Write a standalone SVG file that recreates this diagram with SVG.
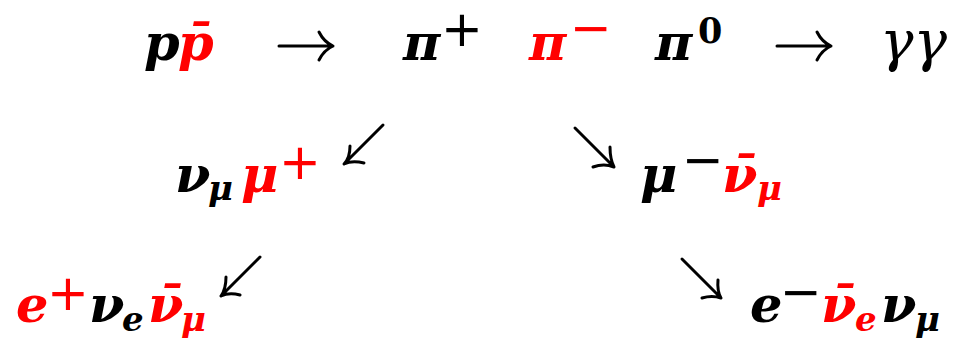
<svg xmlns="http://www.w3.org/2000/svg" width="963" height="340" viewBox="0 0 963 340">
<style>
.m{font-family:"DejaVu Serif",serif;font-weight:bold;font-style:italic;font-size:51px}
.g{font-family:"DejaVu Serif",serif;font-style:italic;font-size:56px}
.s{font-family:"DejaVu Sans",sans-serif;font-size:50px}
.d{font-family:"DejaVu Serif",serif;font-weight:bold;font-size:35px}
.sub{font-size:34px}
.r{fill:#ff0000}
.k{fill:#000}
.arr{fill:none;stroke:#000;stroke-width:3;stroke-linecap:round;stroke-linejoin:round}
</style>
<rect width="963" height="340" fill="#fff"/>
<g id="ppbar">
<text class="m k" x="144" y="60">p</text>
<text class="m r" x="178" y="60">p̄</text>
</g>
<g id="piplus">
<text class="m k" x="403" y="60">π</text>
<text class="s k" x="441" y="46">+</text>
</g>
<g id="piminus">
<text class="m r" x="529" y="60">π</text>
<text class="s r" x="570" y="45">−</text>
</g>
<g id="pizero">
<text class="m k" x="655" y="60">π</text>
<text class="d k" x="698" y="43">0</text>
</g>
<g id="gammagamma">
<text class="g k" x="880" y="60">γγ</text>
</g>
<g id="numu-muplus">
<text class="m k" x="175" y="192">ν</text>
<text class="m sub k" x="208" y="200">μ</text>
<text class="m r" x="241" y="192">μ</text>
<text class="s r" x="279" y="179">+</text>
</g>
<g id="muminus-numubar">
<text class="m k" x="640" y="192">μ</text>
<text class="s k" x="682" y="177">−</text>
<text class="m r" x="722" y="192">ν̄</text>
<text class="m sub r" x="757" y="200">μ</text>
</g>
<g id="eplus-decay">
<text class="m r" x="16" y="322">e</text>
<text class="s r" x="47" y="310">+</text>
<text class="m k" x="89" y="322">ν</text>
<text class="m sub k" x="122" y="331">e</text>
<text class="m r" x="148" y="322">ν̄</text>
<text class="m sub r" x="181" y="331">μ</text>
</g>
<g id="eminus-decay">
<text class="m k" x="750" y="322">e</text>
<text class="s k" x="780" y="309">−</text>
<text class="m r" x="821" y="322">ν̄</text>
<text class="m sub r" x="855" y="331">e</text>
<text class="m k" x="881" y="322">ν</text>
<text class="m sub k" x="915" y="331">μ</text>
</g>
<g id="connectors">
<path class="arr" d="M279 46H333M319 32Q324 42 333 46Q324 50 319 60"/>
<path class="arr" d="M777 46H831M817 32Q822 42 831 46Q822 50 817 60"/>
<path class="arr" d="M383 125L344 164M350 146Q350 158 344 164Q352 160 364 163"/>
<path class="arr" d="M575 128L614 167M610 147Q610 159 614 167Q604 163 593 167"/>
<path class="arr" d="M260 257L221 296M226 277Q226 289 221 296Q229 292 240 295"/>
<path class="arr" d="M682 259L721 298M718 280Q717 291 721 298Q712 295 702 298"/>
</g>
</svg>
